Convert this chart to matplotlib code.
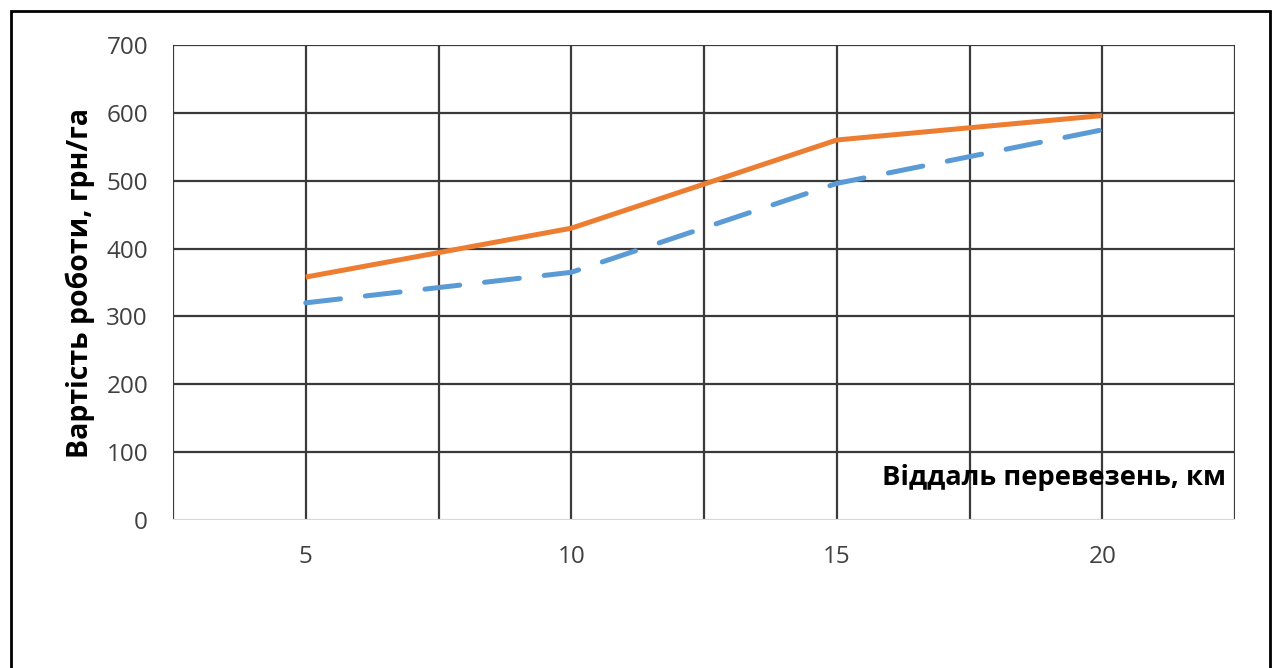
import matplotlib
matplotlib.use("Agg")
import matplotlib.pyplot as plt
from matplotlib.patches import Rectangle

# distance, km
distance = [5, 10, 15, 20]
# cost of work, UAH/ha
cost_orange = [358, 430, 560, 596]
cost_blue = [320, 365, 496, 575]

y_ticks = [0, 100, 200, 300, 400, 500, 600, 700]
x_ticks = [5, 10, 15, 20]
x_grid = [2.5, 5, 7.5, 10, 12.5, 15, 17.5, 20, 22.5]

plt.rcParams['font.family'] = ['Open Sans', 'DejaVu Sans']

fig = plt.figure(figsize=(12.88, 6.68), dpi=100)
ax = fig.add_axes([173 / 1288, 1 - 520 / 668, (1235 - 173) / 1288, (520 - 45) / 668])

grid_color = '#3a3a3a'
for gx in x_grid[1:]:
    ax.axvline(gx, color=grid_color, lw=1.6, zorder=1)
for gy in y_ticks[1:]:
    ax.axhline(gy, color=grid_color, lw=1.6, zorder=1)
ax.axvline(x_grid[0], color=grid_color, lw=1.6, zorder=1)
ax.axhline(0, color='#d9d9d9', lw=1.6, zorder=1)

ax.plot(distance, cost_orange, color='#ED7D31', lw=3.6, zorder=3, solid_capstyle='butt')
ax.plot(distance, cost_blue, color='#5B9BD5', lw=3.6, zorder=3,
        linestyle=(0, (7, 5)), dash_capstyle='round')

ax.set_xlim(2.5, 22.5)
ax.set_ylim(0, 700)
ax.set_xticks(x_ticks)
ax.set_yticks(y_ticks)
ax.tick_params(length=0, labelsize=17.5, labelcolor='#404040')
ax.tick_params(axis='x', pad=18)
ax.tick_params(axis='y', pad=18)
for s in ax.spines.values():
    s.set_visible(False)

ax.set_ylabel('Вартість роботи, грн/га', fontsize=20.5, fontweight='bold', labelpad=8)
ax.text(22.33, 63, 'Віддаль перевезень, км', fontsize=19.7, fontweight='bold',
        ha='right', va='center', zorder=4)

fig.patches.append(Rectangle((11 / 1288, -0.05), (1270 - 11) / 1288, 1.05 - 11 / 668,
                             transform=fig.transFigure, fill=False,
                             edgecolor='black', lw=2))

fig.savefig('out.png', dpi=100)
